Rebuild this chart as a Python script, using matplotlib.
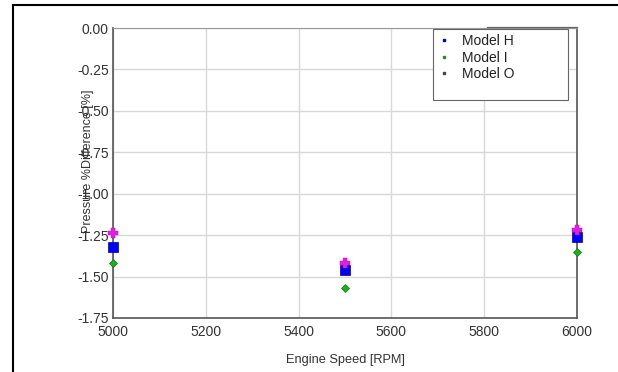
import matplotlib.pyplot as plt
from matplotlib.lines import Line2D
from matplotlib.patches import Rectangle

plt.rcParams['font.family'] = ['Liberation Sans', 'DejaVu Sans']

speeds = [5000, 5500, 6000]
model_h = [-1.32, -1.46, -1.26]
model_i = [-1.42, -1.57, -1.35]
model_o = [-1.24, -1.42, -1.22]

xticks = [5000, 5200, 5400, 5600, 5800, 6000]
yticks = [0.00, -0.25, -0.50, -0.75, -1.00, -1.25, -1.50, -1.75]

W, H = 618, 372
fig = plt.figure(figsize=(W / 100, H / 100), dpi=100)
ax = fig.add_axes([113 / W, 1 - 318 / H, 464 / W, 290 / H])

ax.plot(speeds, model_i, ls='none', marker='D', ms=4.5, mfc='#1db01d', mec='#0a7a0a',
        mew=0.5, zorder=3, clip_on=False)
ax.plot(speeds, model_h, ls='none', marker='s', ms=7, mfc='#0000ff', mec='#00008b',
        mew=0.5, zorder=3, clip_on=False)
ax.plot(speeds, model_o, ls='none', marker='P', ms=7, mfc='#e020e0', mec='#c000c0',
        mew=0.3, zorder=4, clip_on=False)

ax.set_xlim(5000, 6000)
ax.set_ylim(-1.75, 0.0)
ax.set_xticks(xticks)
ax.set_yticks(yticks)
ax.set_yticklabels(['%.2f' % v for v in yticks])
ax.grid(True, color='#d8d8d8', lw=1)
ax.set_axisbelow(True)
ax.tick_params(length=0, labelsize=10, labelcolor='#333333')
ax.tick_params(axis='x', pad=5)
ax.tick_params(axis='y', pad=3)
for side in ['left', 'bottom', 'right']:
    ax.spines[side].set_color('#555555')
    ax.spines[side].set_linewidth(1.2)
ax.spines['top'].set_color('#999999')
ax.spines['top'].set_linewidth(0.8)

# the y label sits over the tick labels, as in the original
ax.set_xlabel('Engine Speed [RPM]', fontsize=9.2, color='#333333')
ax.xaxis.set_label_coords(0.5, -0.125)
ax.set_ylabel('Pressure %Difference [%]', fontsize=9, color='#333333')
ax.yaxis.set_label_coords(-0.04, 0.54)

# legend box (taller than its content, as in the original)
fig.add_artist(Rectangle((433 / W, 1 - 100 / H), 135 / W, 71 / H, facecolor='white',
                         edgecolor='#666666', lw=0.8, zorder=5))
handles = [
    Line2D([], [], ls='none', marker='s', ms=2, mfc='#0000cc', mec='#0000cc'),
    Line2D([], [], ls='none', marker='s', ms=1.5, mfc='#2a8a2a', mec='#2a8a2a'),
    Line2D([], [], ls='none', marker='s', ms=1.5, mfc='#444444', mec='#444444'),
]
leg = fig.legend(handles, ['Model H', 'Model I', 'Model O'], loc='upper left',
                 bbox_to_anchor=(436 / W, 1 - 31 / H), fontsize=10, frameon=False,
                 handlelength=0.8, handletextpad=0.9, borderpad=0.2,
                 labelspacing=0.2, borderaxespad=0)
leg.set_zorder(6)
for t in leg.get_texts():
    t.set_color('#222222')

# back frame behind the legend and figure border
fig.add_artist(Line2D([487 / W, 577 / W], [1 - 26.5 / H, 1 - 26.5 / H], color='#666666', lw=0.9))
fig.add_artist(Line2D([12.5 / W, 12.5 / W], [0, 1 - 5 / H], color='black', lw=1.5))
fig.add_artist(Line2D([12.5 / W, 1], [1 - 5 / H, 1 - 5 / H], color='black', lw=1.5))

fig.savefig('out.png', dpi=100)
